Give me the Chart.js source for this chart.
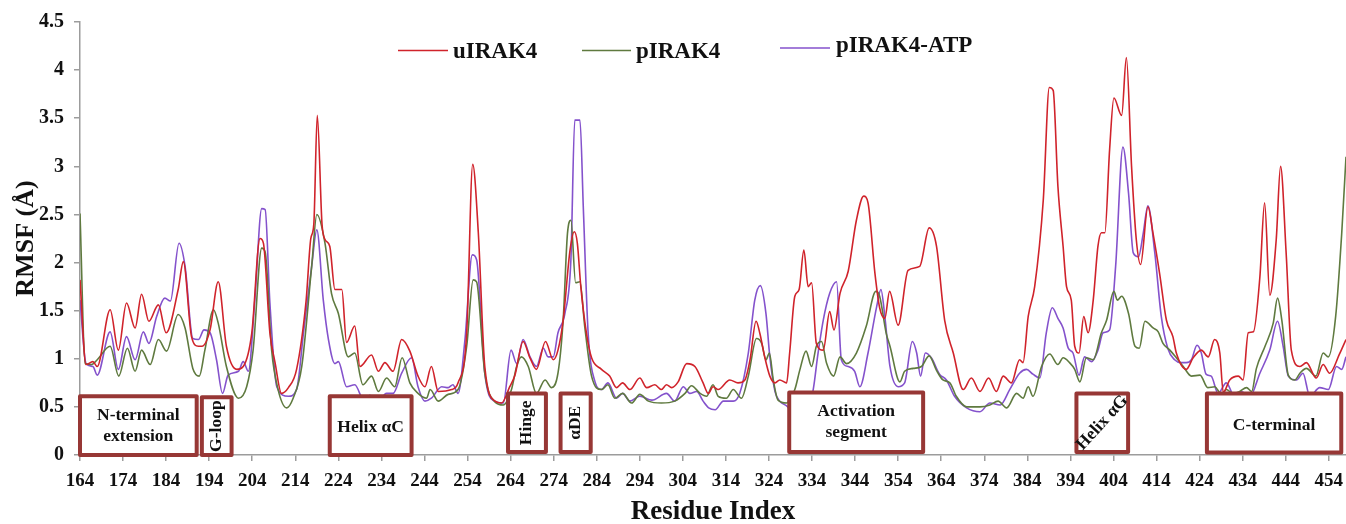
<!DOCTYPE html>
<html>
<head>
<meta charset="utf-8">
<title>IRAK4 RMSF</title>
<script src="https://cdn.jsdelivr.net/npm/chart.js@4.4.0/dist/chart.umd.min.js"></script>
<style>
  html, body { margin: 0; padding: 0; background: #fff; }
  #rmsf { display: block; }
</style>
</head>
<body>
<canvas id="rmsf" width="1346" height="524"></canvas>
<script>
"use strict";

/* Residue-wise RMSF (Å) at its turning points. */
const U_RES = [164, 165.4, 167, 168, 171, 172.9, 174.8, 176.8, 178.3, 180, 182.2, 184, 186.8, 188, 189.9, 191.5, 192.3, 194.2, 196.1, 198, 200.4, 201.9, 203.9, 205.8, 206.6, 208.1, 209.3, 210.8, 212.4, 214.3, 216.5, 217.6, 218.3, 219.1, 220.2, 220.9, 222, 223.2, 224.8, 225.9, 227.8, 229, 231.7, 233.3, 234.8, 236.7, 238.7, 240.6, 242.5, 244.1, 245.6, 247.2, 250.3, 251.8, 253.8, 255.2, 256.5, 258, 260.4, 261.9, 263.8, 265, 266.9, 268.5, 270, 272.1, 273.9, 275, 276.2, 277.8, 278.8, 279.5, 280.3, 281.6, 282.8, 285.1, 287, 288.6, 290, 291.7, 294, 295.6, 297.5, 299, 300.2, 301.4, 302.9, 304.9, 306.8, 308.7, 309.9, 311, 312.2, 314.9, 316.8, 318.4, 319.6, 321, 321.9, 323, 324.2, 325.4, 326.5, 328.1, 328.8, 330, 331, 332.1, 333.1, 333.9, 335, 336.6, 338.1, 339.1, 340.5, 342.4, 344.3, 346, 347, 348.6, 349.7, 350.9, 352, 354, 356.3, 359, 361.2, 362.9, 364.8, 366.8, 369.1, 371, 373, 375, 376.8, 378.4, 380.3, 382.2, 383, 384.2, 385.7, 387.7, 389.1, 390, 391.1, 392.3, 393.1, 394.2, 395, 396, 397.1, 398.1, 399.3, 400.4, 401.2, 402, 403.1, 404.1, 405.9, 407, 408.2, 409.3, 410.3, 412, 413.2, 414.7, 416.3, 417.8, 418.6, 420.9, 422.5, 424.4, 426, 427.5, 428.7, 429.5, 431, 433, 434.1, 435.3, 436.5, 438, 439.1, 440.3, 441.8, 442.8, 444.1, 445.3, 447.3, 448.8, 451.1, 452.7, 454.2, 456.5, 458];
const U_RMSF = [1.82, 0.94, 0.97, 0.92, 1.51, 1.09, 1.58, 1.32, 1.67, 1.39, 1.56, 1.27, 1.72, 2.01, 1.23, 1.13, 1.13, 1.30, 1.80, 1.13, 0.89, 0.92, 1.27, 2.25, 2.20, 1.27, 0.96, 0.64, 0.70, 0.89, 1.60, 2.25, 2.40, 3.53, 2.40, 2.24, 2.17, 1.72, 1.72, 1.17, 1.34, 0.92, 1.04, 0.87, 0.96, 0.87, 1.20, 1.08, 0.82, 0.71, 0.92, 0.66, 0.68, 0.75, 1.27, 3.02, 2.31, 0.92, 0.56, 0.54, 0.71, 0.83, 1.18, 1.01, 0.89, 1.18, 0.99, 1.09, 1.40, 2.13, 2.32, 2.20, 1.75, 1.27, 1.01, 0.89, 0.82, 0.70, 0.75, 0.68, 0.80, 0.70, 0.73, 0.68, 0.73, 0.70, 0.76, 0.95, 0.92, 0.75, 0.64, 0.71, 0.68, 0.78, 0.75, 0.78, 0.99, 1.39, 1.26, 1.02, 0.82, 0.75, 0.78, 0.75, 1.06, 1.65, 1.72, 2.13, 1.75, 1.79, 1.16, 1.09, 1.49, 1.30, 1.68, 1.91, 2.44, 2.69, 2.62, 1.89, 1.53, 1.42, 1.70, 1.35, 1.92, 1.96, 2.36, 2.17, 1.40, 1.06, 0.68, 0.80, 0.66, 0.80, 0.66, 0.82, 0.75, 0.99, 0.96, 1.44, 1.75, 2.65, 3.82, 3.79, 2.79, 2.17, 1.75, 1.61, 1.13, 1.06, 1.44, 1.27, 1.61, 2.17, 2.31, 2.31, 3.17, 3.71, 3.53, 4.13, 3.00, 2.24, 1.98, 2.58, 2.30, 1.89, 1.40, 1.23, 1.06, 0.89, 1.01, 1.09, 1.02, 1.20, 1.06, 0.65, 0.78, 0.82, 0.78, 1.27, 1.28, 1.85, 2.62, 1.66, 2.24, 3.00, 2.10, 1.09, 0.92, 0.96, 0.80, 0.94, 0.85, 1.05, 1.20];

const P_RES = [164, 165.2, 166.7, 168, 171, 173, 175, 176.8, 178.3, 180.3, 182.2, 184.1, 186.8, 188.4, 190.2, 191.7, 193, 195, 196.1, 198, 200.8, 202.7, 204.2, 206.2, 207, 208.5, 210, 212, 213.5, 215.5, 217.8, 219, 220.9, 222.4, 224, 226.3, 227.8, 229.7, 231.7, 233.3, 235.2, 237.1, 238.8, 240.6, 242.5, 244.5, 245.3, 247.2, 249.5, 251.8, 253.8, 255.3, 256.1, 258, 260.4, 262.3, 264.2, 265.4, 266.5, 268.1, 270, 272, 273.5, 275, 276.2, 277.2, 278, 279.1, 280.1, 281.2, 282.8, 285.1, 286.6, 288.2, 290, 292.1, 294, 296, 299, 302.1, 304.5, 306, 308, 309.5, 311, 312.2, 314.1, 315.7, 317.6, 319.2, 321.1, 322.3, 323.3, 324.1, 325, 326.1, 328.1, 330, 331.2, 332.6, 333.9, 335, 336.2, 337.4, 339, 340.5, 342, 344.3, 346.6, 348.8, 349.7, 351.2, 352.1, 354.4, 355.5, 357.5, 359.4, 361.2, 362.9, 364.4, 366, 367.5, 369.9, 373, 375.3, 377.2, 379.2, 381.5, 383, 384.2, 385.3, 387.3, 389.2, 391.1, 392.3, 393.8, 395, 396.2, 397.7, 399.3, 401.2, 402.4, 404.1, 404.9, 405.9, 407.5, 409, 410, 411.3, 413.2, 414.4, 415.5, 417.1, 418.6, 420.2, 422.1, 424.1, 425.9, 427.5, 429.1, 430.2, 431.8, 433.3, 434.9, 436.1, 437.2, 439.2, 441.1, 442.1, 443.1, 444.6, 446.1, 447.3, 448.8, 451, 452.7, 453.9, 455.6, 457, 458];
const P_RMSF = [2.51, 0.95, 0.94, 0.99, 1.13, 0.82, 1.11, 0.87, 1.09, 0.94, 1.20, 1.08, 1.46, 1.32, 0.90, 0.82, 1.09, 1.51, 1.37, 0.92, 0.59, 0.71, 1.09, 2.15, 2.11, 1.09, 0.68, 0.49, 0.59, 0.92, 1.96, 2.50, 2.20, 1.68, 1.47, 1.02, 1.06, 0.73, 0.82, 0.66, 0.80, 0.71, 1.01, 0.75, 0.64, 0.59, 0.68, 0.56, 0.63, 0.68, 1.13, 1.82, 1.80, 0.85, 0.55, 0.52, 0.68, 0.92, 1.02, 0.92, 0.64, 0.78, 0.70, 0.85, 1.40, 2.30, 2.44, 1.79, 1.80, 1.34, 0.82, 0.68, 0.73, 0.59, 0.64, 0.54, 0.63, 0.56, 0.54, 0.56, 0.64, 0.72, 0.64, 0.61, 0.73, 0.61, 0.59, 0.68, 0.59, 0.82, 1.21, 1.16, 0.99, 1.06, 0.78, 0.57, 0.54, 0.68, 0.89, 1.08, 0.92, 1.13, 1.18, 0.95, 0.82, 1.02, 0.95, 1.06, 1.34, 1.70, 1.65, 1.27, 1.13, 0.76, 0.87, 0.90, 0.92, 1.03, 0.88, 0.78, 0.75, 0.61, 0.50, 0.50, 0.52, 0.56, 0.49, 0.64, 0.59, 0.71, 0.61, 0.92, 1.05, 0.94, 1.01, 0.96, 0.89, 0.76, 1.01, 0.99, 1.27, 1.40, 1.70, 1.61, 1.65, 1.47, 1.13, 1.11, 1.39, 1.32, 1.28, 1.16, 1.09, 1.01, 0.92, 0.82, 0.83, 0.70, 0.71, 0.63, 0.68, 0.64, 0.66, 0.70, 0.66, 0.90, 1.13, 1.37, 1.63, 1.40, 0.83, 0.78, 0.85, 0.90, 0.82, 1.06, 1.02, 1.44, 2.30, 3.10];

const A_RES = [164, 165.4, 167, 168, 171, 172.9, 174.8, 176.8, 178.7, 180, 181.8, 183.7, 185, 187, 188.4, 190.2, 191.5, 192.8, 194.2, 195.7, 197.1, 198.4, 200.8, 201.9, 203.1, 204.6, 206.2, 207, 208.1, 209.7, 212.4, 214.3, 215.9, 217.8, 219, 220.5, 221.7, 223.2, 224, 225.9, 227.8, 230.2, 231.3, 232.9, 235.2, 236.7, 238.7, 241, 242.5, 244.1, 245.6, 248, 249.5, 250.6, 251.8, 253.4, 255.1, 256.1, 258, 260.2, 262.3, 264.1, 265.4, 266.9, 268.5, 270, 271.6, 272.7, 273.9, 275, 276.6, 278, 278.9, 280.1, 280.9, 282, 283.6, 285.1, 286.6, 288.6, 290, 291.7, 294, 296.8, 300.2, 302.1, 304.1, 305.6, 307.2, 308.7, 310, 311.5, 313.4, 315.7, 317.2, 319.2, 320.7, 322, 323.3, 324.2, 325.4, 326.5, 328.1, 329.8, 331.2, 333.9, 335.4, 336.6, 338.1, 339.7, 340.8, 342.4, 343.9, 345.1, 347, 349, 350, 350.9, 352.1, 354, 355.5, 357.3, 358.3, 359.2, 360.3, 361.7, 363.6, 365.2, 367.1, 369.9, 373, 375.3, 377.7, 379.9, 382.2, 383.8, 385.3, 386.9, 388.4, 389.8, 391.1, 392.3, 393.5, 394.6, 396, 397.3, 398.9, 400.4, 401.6, 403.1, 404.5, 406.2, 407.5, 408.6, 409.8, 410.9, 412, 413.6, 415.1, 416.6, 418.2, 419.7, 420.9, 422.1, 423.4, 424.4, 425.5, 426.7, 428.3, 430.2, 432.1, 433.7, 435.7, 438, 440.3, 442.1, 443.4, 444.6, 446.5, 448, 449.6, 451.9, 453.9, 455.8, 457, 458];
const A_RMSF = [1.61, 0.95, 0.92, 0.83, 1.28, 0.89, 1.23, 0.99, 1.28, 1.16, 1.44, 1.63, 1.60, 2.20, 1.96, 1.21, 1.20, 1.30, 1.27, 0.99, 0.64, 0.83, 0.87, 0.97, 0.87, 1.61, 2.56, 2.55, 1.58, 0.71, 0.61, 0.68, 1.27, 1.96, 2.34, 1.61, 1.20, 0.95, 0.97, 0.71, 0.73, 0.54, 0.62, 0.54, 0.64, 0.64, 0.85, 1.01, 0.71, 0.56, 0.59, 0.71, 0.70, 0.73, 0.64, 1.20, 2.08, 2.03, 0.85, 0.56, 0.54, 1.09, 0.95, 1.20, 1.02, 0.92, 1.11, 1.02, 1.02, 1.27, 1.47, 2.03, 3.48, 3.48, 2.55, 1.27, 0.76, 0.68, 0.75, 0.59, 0.64, 0.56, 0.61, 0.57, 0.64, 0.56, 0.71, 0.64, 0.66, 0.56, 0.49, 0.47, 0.56, 0.56, 0.64, 1.06, 1.61, 1.76, 1.47, 1.02, 0.66, 0.56, 0.51, 0.44, 0.54, 0.61, 1.06, 1.40, 1.68, 1.80, 0.99, 0.92, 0.87, 0.71, 1.06, 1.54, 1.72, 1.44, 0.92, 0.71, 0.75, 1.18, 1.06, 0.82, 1.06, 1.01, 0.84, 0.78, 0.61, 0.49, 0.45, 0.54, 0.52, 0.68, 0.85, 0.89, 0.84, 0.80, 1.27, 1.53, 1.42, 1.32, 1.11, 1.06, 0.83, 1.02, 0.97, 1.09, 1.27, 1.30, 1.96, 3.20, 2.72, 2.10, 2.06, 2.30, 2.59, 2.10, 1.44, 1.11, 0.99, 0.96, 0.96, 0.99, 1.14, 1.06, 0.84, 0.82, 0.64, 0.75, 0.61, 0.66, 0.61, 0.85, 1.09, 1.39, 1.13, 0.82, 0.78, 0.85, 0.61, 0.70, 0.68, 0.92, 0.89, 1.02];

const SERIES_LABELS = ["uIRAK4", "pIRAK4", "pIRAK4-ATP"];
const X_TICKS = [164, 174, 184, 194, 204, 214, 224, 234, 244, 254, 264, 274, 284, 294, 304, 314, 324, 334, 344, 354, 364, 374, 384, 394, 404, 414, 424, 434, 444, 454];
const Y_TICKS = [0, 0.5, 1, 1.5, 2, 2.5, 3, 3.5, 4, 4.5];

// Structural regions marked along the bottom (residue span, RMSF height of the box top)
const REGION_LABELS = ["N-terminal\nextension", "G-loop", "Helix αC", "Hinge", "αDE", "Activation\nsegment", "Helix αG", "C-terminal"];
const REGION_FROM = [164, 192.3, 222, 263.4, 275.6, 328.7, 395.4, 425.7];
const REGION_TO = [191.1, 199.2, 241, 272.2, 282.6, 359.8, 407.4, 456.9];
const REGION_TOP = [0.61, 0.6, 0.61, 0.64, 0.64, 0.65, 0.64, 0.64];
const REGION_BASE = [0, 0, 0, 0.03, 0.03, 0.03, 0.03, 0.025];

const COLORS = ["#d0232b", "#5f7a3f", "#8452cc"];
const AXIS = "#9c9c9c";
const BOX = "#973735";
const SERIF = "'Liberation Serif', 'Times New Roman', serif";

// rotation (radians) of the label inside each region box
const REGION_ROT = { "G-loop": -Math.PI / 2, "Hinge": -Math.PI / 2, "αDE": -Math.PI / 2, "Helix αG": -0.83 };
// legend: hand-placed like the original figure (line start/end, text x, baseline y, line y)
const LEGEND_POS = [[398, 448, 453, 58, 50.5], [582, 631, 636, 57.5, 50.5], [780, 830, 836, 51.5, 48]];

const toPoints = (xs, ys) => xs.map((x, i) => ({ x, y: ys[i] }));

function lineDataset(i, xs, ys) {
  return {
    label: SERIES_LABELS[i],
    data: toPoints(xs, ys),
    borderColor: COLORS[i],
    backgroundColor: COLORS[i],
    borderWidth: 1.6,
    pointRadius: 0,
    cubicInterpolationMode: "monotone",
    fill: false,
  };
}

const regionBoxes = {
  id: "regionBoxes",
  afterDatasetsDraw(chart) {
    const { ctx, scales: { x, y } } = chart;
    ctx.save();
    REGION_LABELS.forEach((label, i) => {
      const x0 = x.getPixelForValue(REGION_FROM[i]);
      const x1 = x.getPixelForValue(REGION_TO[i]);
      const y0 = y.getPixelForValue(REGION_TOP[i]);
      const y1 = y.getPixelForValue(REGION_BASE[i]);
      ctx.fillStyle = "#fff";
      ctx.fillRect(x0, y0, x1 - x0, y1 - y0);
      ctx.strokeStyle = BOX;
      ctx.lineWidth = 4;
      ctx.lineJoin = "round";
      ctx.strokeRect(x0, y0, x1 - x0, y1 - y0);

      ctx.fillStyle = "#111";
      ctx.font = `bold 17.5px ${SERIF}`;
      ctx.textAlign = "center";
      ctx.textBaseline = "middle";
      const cx = (x0 + x1) / 2;
      const cy = (y0 + y1) / 2;
      const lines = label.split("\n");
      ctx.save();
      ctx.translate(cx, cy + (lines.length === 1 && !REGION_ROT[label] ? 2 : 0));
      if (REGION_ROT[label]) ctx.rotate(REGION_ROT[label]);
      lines.forEach((t, k) => ctx.fillText(t, 0, (k - (lines.length - 1) / 2) * 21));
      ctx.restore();
    });
    ctx.restore();
  },
};

const placedLegend = {
  id: "placedLegend",
  afterDraw(chart) {
    const { ctx } = chart;
    ctx.save();
    chart.data.datasets.forEach((ds, i) => {
      const [l0, l1, tx, base, ly] = LEGEND_POS[i];
      ctx.strokeStyle = ds.borderColor;
      ctx.lineWidth = 1.6;
      ctx.beginPath();
      ctx.moveTo(l0, ly);
      ctx.lineTo(l1, ly);
      ctx.stroke();
      ctx.fillStyle = "#111";
      ctx.font = `bold 23px ${SERIF}`;
      ctx.textAlign = "left";
      ctx.textBaseline = "alphabetic";
      ctx.fillText(ds.label, tx, base);
    });
    ctx.restore();
  },
};

new Chart(document.getElementById("rmsf"), {
  type: "line",
  data: {
    datasets: [
      lineDataset(0, U_RES, U_RMSF),
      lineDataset(1, P_RES, P_RMSF),
      lineDataset(2, A_RES, A_RMSF),
    ],
  },
  options: {
    responsive: false,
    animation: false,
    devicePixelRatio: 1,
    layout: { padding: { top: 22, right: 0, left: 0, bottom: 0 } },
    plugins: { legend: { display: false }, tooltip: { enabled: false } },
    scales: {
      x: {
        type: "linear",
        min: 164,
        max: 458,
        afterBuildTicks: (s) => { s.ticks = X_TICKS.map((value) => ({ value })); },
        // fixed band under the plot; no extra side padding for the end labels
        afterFit: (s) => { s.height = 69; s.paddingLeft = 0; s.paddingRight = 0; },
        grid: { drawOnChartArea: false, drawTicks: true, tickLength: 6, color: AXIS, lineWidth: 1.5 },
        border: { color: AXIS, width: 1.5 },
        ticks: { color: "#111", padding: 9, maxRotation: 0, autoSkip: false, font: { family: SERIF, size: 19, weight: "bold" }, callback: (v) => String(v) },
        title: { display: true, text: "Residue Index", color: "#111", padding: { top: 0, bottom: -2 }, font: { family: SERIF, size: 27, weight: "bold", lineHeight: 1 } },
      },
      y: {
        min: 0,
        max: 4.5,
        afterBuildTicks: (s) => { s.ticks = Y_TICKS.map((value) => ({ value })); },
        afterFit: (s) => { s.width = 80; s.paddingTop = 0; s.paddingBottom = 0; },
        grid: { drawOnChartArea: false, drawTicks: true, tickLength: 6, color: AXIS, lineWidth: 1.5 },
        border: { color: AXIS, width: 1.5 },
        ticks: { color: "#111", padding: 10, font: { family: SERIF, size: 20, weight: "bold" }, callback: (v) => String(v) },
        title: { display: true, text: "RMSF (Å)", color: "#111", padding: { top: 13, bottom: 0 }, font: { family: SERIF, size: 26, weight: "bold", lineHeight: 1 } },
      },
    },
  },
  plugins: [regionBoxes, placedLegend],
});
</script>
</body>
</html>
